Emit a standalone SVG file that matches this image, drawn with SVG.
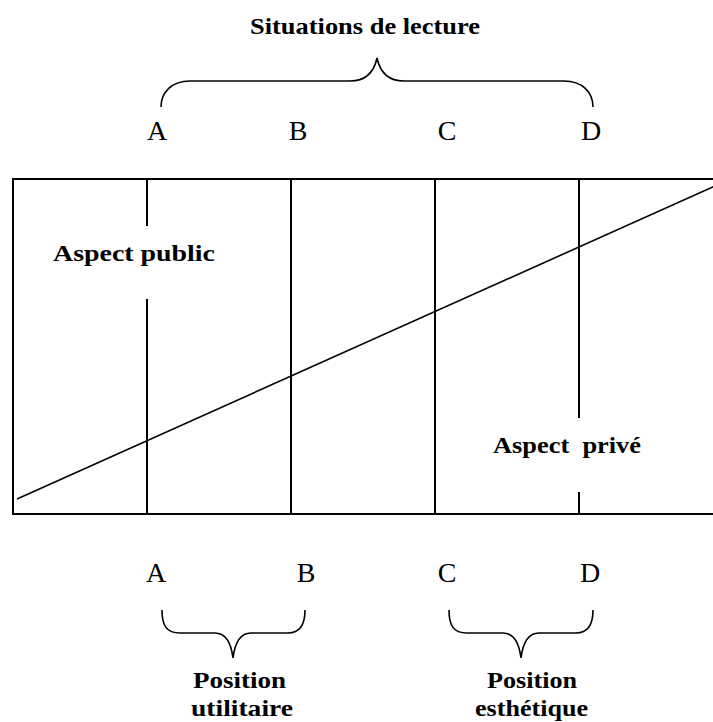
<svg xmlns="http://www.w3.org/2000/svg" width="713" height="722" viewBox="0 0 713 722">
<style>
.b{font-family:"Liberation Serif","Times New Roman",serif;font-weight:bold;font-size:24px;fill:#000}
.r{font-family:"Liberation Serif","Times New Roman",serif;font-size:28px;fill:#000}
.ln{stroke:#000;stroke-width:2;fill:none}
.br{stroke:#000;stroke-width:1.6;fill:none}
</style>
<rect width="713" height="722" fill="#fff"/>
<g id="title">
<text class="b" x="250" y="34" textLength="230" lengthAdjust="spacingAndGlyphs">Situations de lecture</text>
<path class="br" d="M161,107 C161,92 172,81 190,81 L350,81 C366,81 374,72 377,58 C380,72 388,81 404,81 L564,81 C582,81 593,92 593,107"/>
</g>
<g id="top-labels">
<text class="r" x="157" y="140" text-anchor="middle">A</text>
<text class="r" x="298" y="140" text-anchor="middle">B</text>
<text class="r" x="447" y="140" text-anchor="middle">C</text>
<text class="r" x="591" y="140" text-anchor="middle">D</text>
</g>
<g id="chart">
<path class="ln" d="M720,179 H13 V514 H720"/>
<path class="ln" d="M147,179 V226 M147,299 V514 M291,179 V514 M435,179 V514 M579,179 V418 M579,492 V514"/>
<line x1="17" y1="499" x2="715" y2="186" stroke="#000" stroke-width="1.6"/>
<text id="aspect-public" class="b" x="53" y="261" textLength="162" lengthAdjust="spacingAndGlyphs">Aspect public</text>
<text id="aspect-prive" class="b" x="493" y="453" textLength="148" lengthAdjust="spacingAndGlyphs" style="white-space:pre" xml:space="preserve">Aspect  privé</text>
</g>
<g id="bottom-labels">
<text class="r" x="156" y="582" text-anchor="middle">A</text>
<text class="r" x="306" y="582" text-anchor="middle">B</text>
<text class="r" x="447" y="582" text-anchor="middle">C</text>
<text class="r" x="590" y="582" text-anchor="middle">D</text>
</g>
<g id="utilitaire">
<path class="br" d="M162,610 C162,625 166,633 180,633 L215,633 C226,633 231,642 233,658 C235,642 240,633 251,633 L288,633 C300,633 305,625 305,610"/>
<text class="b" x="193" y="688" textLength="93" lengthAdjust="spacingAndGlyphs">Position</text>
<text class="b" x="191" y="716" textLength="102" lengthAdjust="spacingAndGlyphs">utilitaire</text>
</g>
<g id="esthetique">
<path class="br" d="M449,610 C449,625 453,633 467,633 L503,633 C514,633 519,642 521,658 C523,642 528,633 539,633 L576,633 C588,633 593,625 593,610"/>
<text class="b" x="487" y="688" textLength="90" lengthAdjust="spacingAndGlyphs">Position</text>
<text class="b" x="475" y="716" textLength="113" lengthAdjust="spacingAndGlyphs">esthétique</text>
</g>
</svg>
